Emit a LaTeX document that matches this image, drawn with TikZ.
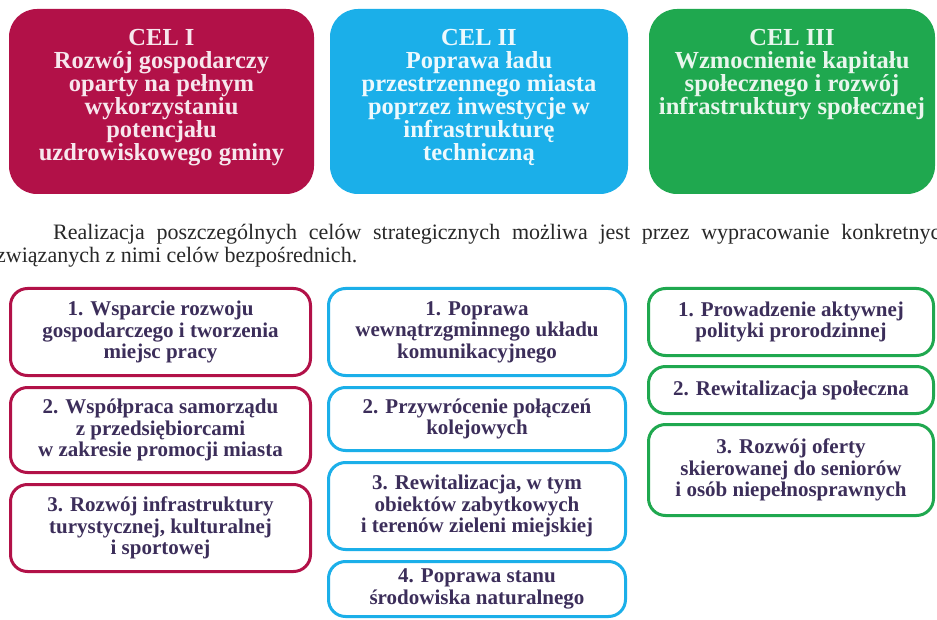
\documentclass[tikz,border=0pt]{standalone}
\usepackage{fontspec}
\setmainfont{Liberation Serif}
\usetikzlibrary{positioning}

\definecolor{celred}{RGB}{178,17,72}
\definecolor{celblue}{RGB}{27,175,233}
\definecolor{celgreen}{RGB}{31,168,79}
\definecolor{subtext}{RGB}{60,46,90}
\definecolor{partext}{RGB}{40,40,40}

\tikzstyle{celbox}=[rectangle,rounded corners=28pt,draw=none,minimum height=185pt,inner sep=0pt]
\tikzstyle{celtext}=[align=center,inner sep=0pt,font=\fontsize{24.5}{23}\selectfont\bfseries]
\tikzstyle{subgoal}=[rectangle,rounded corners=17pt,line width=3pt,fill=white,align=center,inner sep=0pt,text=subtext,font=\fontsize{21}{21.5}\selectfont\bfseries]
\tikzstyle{paragraph}=[anchor=base west,inner sep=0pt,text=partext,font=\fontsize{22}{23}\selectfont]

\begin{document}
\begin{tikzpicture}[x=1pt,y=-1pt,node distance=9pt]
  \useasboundingbox (0,0) rectangle (937,620);
  \clip (0,0) rectangle (937,620);
  \fill[white] (0,0) rectangle (937,620);

  \node (cel1) [celbox,fill=celred,minimum width=305pt] at (161.5,101.5) {};
  \node (cel2) [celbox,fill=celblue,minimum width=298pt] at (479,101.5) {};
  \node (cel3) [celbox,fill=celgreen,minimum width=286pt] at (792,101.5) {};
  \node (cel1t) [celtext,text=white!90!celred,below=20pt of cel1.north]
    {CEL I\\Rozwój gospodarczy\\oparty na pełnym\\wykorzystaniu\\potencjału\\uzdrowiskowego gminy};
  \node (cel2t) [celtext,text=white!92!celblue,below=20pt of cel2.north]
    {CEL II\\Poprawa ładu\\przestrzennego miasta\\poprzez inwestycje w\\infrastrukturę\\techniczną};
  \node (cel3t) [celtext,text=white!90!celgreen,below=20pt of cel3.north]
    {CEL III\\Wzmocnienie kapitału\\społecznego i rozwój\\infrastruktury społecznej};

  \node (par1) [paragraph] at (53,240)
    {\makebox[898pt][s]{Realizacja poszczególnych celów strategicznych możliwa jest przez wypracowanie konkretnych}};
  \node (par2) [paragraph] at (-4,263) {związanych z nimi celów bezpośrednich.};

  \node (red1) [subgoal,draw=celred,minimum width=300pt,minimum height=87pt] at (160.5,332)
    {1. Wsparcie rozwoju\\gospodarczego i tworzenia\\miejsc pracy};
  \node (red2) [subgoal,draw=celred,minimum width=300pt,minimum height=85pt,below=of red1]
    {2. Współpraca samorządu\\z przedsiębiorcami\\w zakresie promocji miasta};
  \node (red3) [subgoal,draw=celred,minimum width=300pt,minimum height=87pt,below=of red2]
    {3. Rozwój infrastruktury\\turystycznej, kulturalnej\\i sportowej};

  \node (blue1) [subgoal,draw=celblue,minimum width=297pt,minimum height=87pt] at (477,332)
    {1. Poprawa\\wewnątrzgminnego układu\\komunikacyjnego};
  \node (blue2) [subgoal,draw=celblue,minimum width=297pt,minimum height=63pt,below=of blue1]
    {2. Przywrócenie połączeń\\kolejowych};
  \node (blue3) [subgoal,draw=celblue,minimum width=297pt,minimum height=87pt,below=of blue2]
    {3. Rewitalizacja, w tym\\obiektów zabytkowych\\i terenów zieleni miejskiej};
  \node (blue4) [subgoal,draw=celblue,minimum width=297pt,minimum height=55pt,below=of blue3]
    {4. Poprawa stanu\\środowiska naturalnego};

  \node (green1) [subgoal,draw=celgreen,minimum width=285pt,minimum height=67pt] at (791,322)
    {1. Prowadzenie aktywnej\\polityki prorodzinnej};
  \node (green2) [subgoal,draw=celgreen,minimum width=285pt,minimum height=47pt,below=8pt of green1]
    {2. Rewitalizacja społeczna};
  \node (green3) [subgoal,draw=celgreen,minimum width=285pt,minimum height=91pt,below=8pt of green2]
    {3. Rozwój oferty\\skierowanej do seniorów\\i osób niepełnosprawnych};
\end{tikzpicture}
\end{document}
